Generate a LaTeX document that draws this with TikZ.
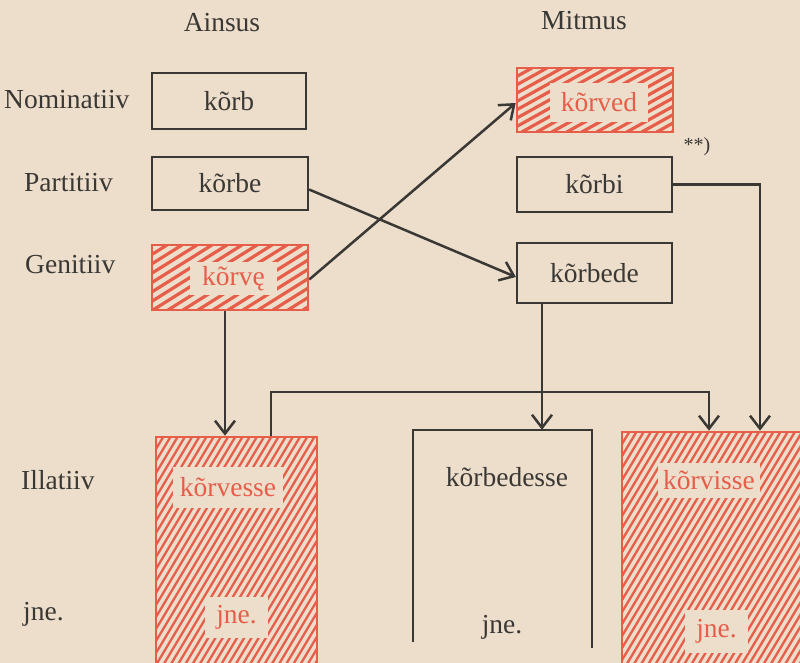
\documentclass[tikz,border=0pt]{standalone}
\usepackage{fontspec}
\setmainfont{Liberation Serif}
\usetikzlibrary{arrows.meta}
\definecolor{bgc}{RGB}{237,222,204}
\definecolor{ink}{RGB}{58,56,52}
\definecolor{rd}{RGB}{230,94,74}
% #1 x0, #2 y0, #3 x1, #4 y1, #5 horizontal step, #6 cot(angle), #7 line width
\newcommand\myhatch[7]{%
  \begin{scope}
    \clip (#1,#2) rectangle (#3,#4);
    \pgfmathsetmacro\hh{#4-#2}
    \pgfmathsetmacro\dd{\hh*#6}
    \pgfmathsetmacro\xs{#1-\dd}
    \pgfmathsetmacro\xn{\xs+#5}
    \foreach \xx in {\xs,\xn,...,#3} \draw[draw=rd, line width=#7] (\xx,#4) -- ++(\dd,-\hh);
  \end{scope}}
\begin{document}
\begin{tikzpicture}[x=1pt,y=-1pt,
  lbl/.style={text=ink, font=\fontsize{27.5}{30}\selectfont, inner sep=0pt},
  bbox/.style={draw=ink, line width=2.2pt, text=ink, font=\fontsize{27.5}{30}\selectfont, inner sep=0pt},
  rbox/.style={draw=rd, line width=2.6pt, inner sep=0pt},
  hole/.style={fill=bgc, text=rd, font=\fontsize{27.5}{30}\selectfont, inner sep=0pt},
  ln/.style={draw=ink, line width=2.3pt},
  arr/.style={draw=ink, line width=2.5pt, -{Straight Barb[length=13pt,width=20pt]}}]
\fill[bgc] (0,0) rectangle (800,663);
\useasboundingbox (0,0) rectangle (800,663);

% headers and row labels
\node[lbl] (ains) at (222,23) {Ainsus};
\node[lbl] (mitm) at (584,21) {Mitmus};
\node[lbl,anchor=west] (nom) at (4,100) {Nominatiiv};
\node[lbl,anchor=west] (par) at (24,183) {Partitiiv};
\node[lbl,anchor=west] (gen) at (25,265) {Genitiiv};
\node[lbl,anchor=west] (ill) at (21,480) {Illatiiv};
\node[lbl,anchor=west] (jne0) at (23,614) {jne.};

% singular column
\node[bbox, minimum width=154pt, minimum height=56pt] (korb) at (229,101) {kõrb};
\node[bbox, minimum width=156pt, minimum height=53pt] (korbe) at (230,183.5) {kõrbe};
\myhatch{152}{245}{308}{310}{15}{1.6}{3.2pt}
\node[rbox, minimum width=156pt, minimum height=65pt] (korve) at (230,277.5) {};
\node[hole, minimum width=87pt, minimum height=33pt] (korvet) at (233.5,278.5) {kõrvę};

% plural column
\myhatch{517}{68}{673}{132}{15}{1.8}{3.2pt}
\node[rbox, minimum width=156pt, minimum height=64pt] (korved) at (595,100) {};
\node[hole, minimum width=98pt, minimum height=39pt] (korvedt) at (599,102.5) {kõrved};
\node[bbox, minimum width=155pt, minimum height=55pt] (korbi) at (594.5,184.5) {kõrbi};
\node[lbl, font=\fontsize{20}{22}\selectfont] (ast) at (697,147) {**)};
\node[bbox, minimum width=155pt, minimum height=60pt] (korbede) at (594.5,273) {kõrbede};

% illative boxes
\myhatch{156}{437}{317}{680}{7.2}{0.6}{2.3pt}
\node[rbox, minimum width=161pt, minimum height=243pt] (korvesse) at (236.5,558.5) {};
\node[hole, minimum width=110pt, minimum height=41pt] (korvesset) at (228,487.5) {kõrvesse};
\node[hole, minimum width=63pt, minimum height=41pt] (jne1) at (236.5,617.5) {jne.};

\node[minimum width=179pt, minimum height=220pt, inner sep=0pt] (mid) at (502.5,540) {};
\draw[ln] ([yshift=8pt]mid.south west) -- (mid.north west) -- (mid.north east) -- ([yshift=2pt]mid.south east);
\node[lbl] (korbedesse) at (507,477) {kõrbedesse};
\node[lbl] (jne2) at (502,627) {jne.};

\myhatch{622}{432}{820}{680}{7.2}{0.6}{2.3pt}
\node[rbox, minimum width=198pt, minimum height=248pt] (korvisse) at (721,556) {};
\node[hole, minimum width=102pt, minimum height=35pt] (korvisset) at (709,480.5) {kõrvisse};
\node[hole, minimum width=63pt, minimum height=43pt] (jne3) at (716.5,631.5) {jne.};

% connectors
\draw[arr] ([yshift=-6pt]korbe.east) -- ([yshift=-4pt]korbede.west);
\draw[arr] ([yshift=-2pt]korve.east) -- ([yshift=-3pt]korved.west);
\draw[arr] ([xshift=-5pt]korve.south) -- ([xshift=-5pt]korve.south |- korvesse.north);
\coordinate (j1) at (271,392);
\draw[arr] (korvesse.north -| j1) -- (j1) -| ([xshift=-12pt]korvisse.north);
\draw[arr] ([xshift=-52.5pt]korbede.south) -- ([xshift=-52.5pt]korbede.south |- mid.north);
\draw[arr] (korbi.east) -| ([xshift=39pt]korvisse.north);
\end{tikzpicture}
\end{document}
